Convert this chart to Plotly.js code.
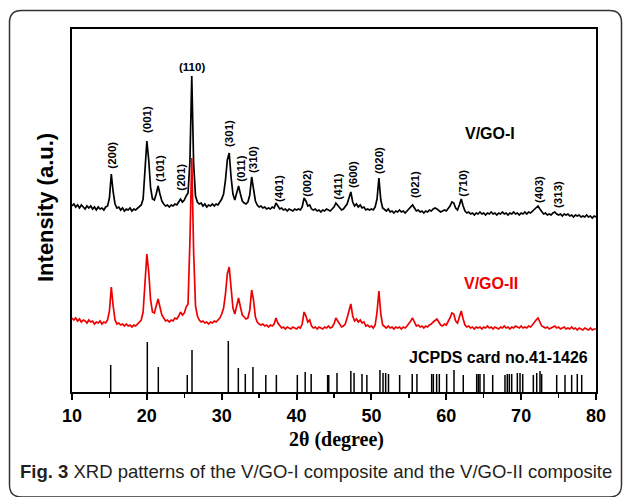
<!DOCTYPE html>
<html>
<head>
<meta charset="utf-8">
<script src="https://cdn.plot.ly/plotly-3.0.1.min.js"></script>
<style>html,body{margin:0;padding:0;background:#fff;}#chart{width:629px;height:497px;}</style>
</head>
<body>
<div id="chart"></div>
<script>
// 2θ sampling (degrees)
const twoTheta = [
10.00,10.25,10.50,10.75,11.00,11.25,11.50,11.75,12.00,12.25,12.50,12.75,13.00,13.25,13.50,13.75,14.00,14.25,14.50,14.75,
15.00,15.25,15.50,15.75,16.00,16.25,16.50,16.75,17.00,17.25,17.50,17.75,18.00,18.25,18.50,18.75,19.00,19.25,19.50,19.75,
20.00,20.25,20.50,20.75,21.00,21.25,21.50,21.75,22.00,22.25,22.50,22.75,23.00,23.25,23.50,23.75,24.00,24.25,24.50,24.75,
25.00,25.25,25.50,25.75,26.00,26.25,26.50,26.75,27.00,27.25,27.50,27.75,28.00,28.25,28.50,28.75,29.00,29.25,29.50,29.75,
30.00,30.25,30.50,30.75,31.00,31.25,31.50,31.75,32.00,32.25,32.50,32.75,33.00,33.25,33.50,33.75,34.00,34.25,34.50,34.75,
35.00,35.25,35.50,35.75,36.00,36.25,36.50,36.75,37.00,37.25,37.50,37.75,38.00,38.25,38.50,38.75,39.00,39.25,39.50,39.75,
40.00,40.25,40.50,40.75,41.00,41.25,41.50,41.75,42.00,42.25,42.50,42.75,43.00,43.25,43.50,43.75,44.00,44.25,44.50,44.75,
45.00,45.25,45.50,45.75,46.00,46.25,46.50,46.75,47.00,47.25,47.50,47.75,48.00,48.25,48.50,48.75,49.00,49.25,49.50,49.75,
50.00,50.25,50.50,50.75,51.00,51.25,51.50,51.75,52.00,52.25,52.50,52.75,53.00,53.25,53.50,53.75,54.00,54.25,54.50,54.75,
55.00,55.25,55.50,55.75,56.00,56.25,56.50,56.75,57.00,57.25,57.50,57.75,58.00,58.25,58.50,58.75,59.00,59.25,59.50,59.75,
60.00,60.25,60.50,60.75,61.00,61.25,61.50,61.75,62.00,62.25,62.50,62.75,63.00,63.25,63.50,63.75,64.00,64.25,64.50,64.75,
65.00,65.25,65.50,65.75,66.00,66.25,66.50,66.75,67.00,67.25,67.50,67.75,68.00,68.25,68.50,68.75,69.00,69.25,69.50,69.75,
70.00,70.25,70.50,70.75,71.00,71.25,71.50,71.75,72.00,72.25,72.50,72.75,73.00,73.25,73.50,73.75,74.00,74.25,74.50,74.75,
75.00,75.25,75.50,75.75,76.00,76.25,76.50,76.75,77.00,77.25,77.50,77.75,78.00,78.25,78.50,78.75,79.00,79.25,79.50,79.75,
80.00];

// V/GO-I intensity (a.u., offset pattern)
const vgoI = [
186,188,185,187,184,187,185,183,186,184,186,183,185,182,185,183,184,182,185,186,
194,218,200,188,184,185,182,184,181,183,182,184,181,183,182,184,185,187,193,218,
251,232,204,193,192,198,206,198,191,188,186,187,185,187,186,188,187,190,193,190,
192,196,199,230,316,228,196,190,188,189,186,188,185,187,186,188,186,188,187,190,
193,198,212,232,239,215,198,192,199,206,198,191,189,188,190,197,215,205,191,187,
185,186,184,185,183,184,183,185,184,189,186,183,184,182,183,181,183,182,181,183,
182,183,182,185,194,191,186,187,183,182,183,181,182,180,182,181,183,182,181,183,
185,189,187,184,182,183,185,188,194,200,190,186,188,185,187,184,185,182,183,182,
183,182,185,193,214,192,184,182,181,183,180,181,179,181,180,182,180,181,179,181,
183,185,187,184,181,182,180,181,179,181,180,182,181,183,184,183,181,180,181,182,
181,183,186,190,189,184,182,187,193,186,181,179,180,178,179,177,179,178,180,178,
179,177,179,178,180,178,179,177,179,178,180,178,179,177,179,178,180,178,179,177,
179,178,180,178,180,179,181,183,185,186,183,180,178,179,177,178,177,179,180,178,
177,178,176,178,177,178,176,177,175,177,176,177,175,176,175,177,175,176,174,176,
175];

// V/GO-II intensity (a.u., offset pattern)
const vgoII = [
74,72,74,71,73,70,72,71,69,72,70,71,68,70,69,71,68,70,69,72,
81,105,86,72,68,69,67,68,66,68,66,67,65,67,66,68,69,72,80,110,
138,120,92,80,79,86,93,85,77,74,71,72,70,72,71,74,73,76,80,77,
79,85,88,150,234,140,86,76,72,70,71,69,70,68,70,69,71,70,72,74,
78,84,98,118,125,101,84,78,86,94,85,77,75,73,74,82,102,92,75,70,
68,67,68,66,67,65,67,66,68,74,69,66,64,65,63,65,64,63,65,64,
63,65,64,68,80,76,70,72,66,64,65,63,65,64,63,65,64,66,64,65,
68,74,71,67,65,66,68,74,80,88,76,71,73,70,72,69,70,66,67,65,
66,64,67,80,101,78,67,65,64,66,64,65,63,65,64,65,63,65,64,66,
68,71,74,70,66,67,65,66,64,66,65,67,68,70,72,73,70,67,66,68,
67,70,74,79,78,71,69,75,81,73,67,65,66,64,65,63,65,64,65,63,
65,64,66,64,65,63,65,64,63,65,64,66,64,65,63,65,64,66,65,64,
66,64,65,64,66,65,67,70,72,74,70,66,65,64,65,63,64,65,66,64,
65,63,64,65,63,64,63,65,63,64,62,64,63,62,64,63,62,64,62,63,
63];

// JCPDS card no.41-1426 reference lines
const cardPos = [15.17,20.06,21.53,25.40,26.03,30.88,32.22,33.15,34.17,35.89,37.30,40.10,41.15,41.95,44.15,44.30,45.40,
47.25,47.68,48.74,49.39,51.14,51.55,51.90,52.28,53.77,55.45,56.08,58.05,58.27,58.71,59.07,60.05,61.03,62.27,
64.06,64.28,64.50,65.04,66.20,67.84,68.15,68.42,68.74,69.49,69.85,70.21,71.63,72.08,72.52,72.74,74.75,75.86,76.75,77.50,78.09];
const cardInt = [27,50,25,17,42,51,24,18,25,17,17,17,20,18,17,17,19,
21,19,18,17,22,19,19,18,17,18,18,18,18,18,18,18,22,17,
18,18,18,18,17,17,18,18,18,19,19,18,17,19,21,18,17,17,17,18,17];

// Miller index labels
const peakLabels = ['(200)','(001)','(101)','(201)','(110)','(301)','(011)','(310)','(401)','(002)','(411)','(600)','(020)','(021)','(710)','(403)','(313)'];
const peakX = [15.30,20.02,21.76,24.52,26.03,30.97,32.54,34.18,37.65,41.35,45.49,47.54,51.01,55.82,62.19,72.38,74.92];
const peakY = [237,272,223,215,325,259,223,232,204,209,205,217,232,207,209,203,198];

const stickX = [], stickY = [];
cardPos.forEach((p, i) => { stickX.push(p, p, null); stickY.push(0, cardInt[i], null); });

const traces = [
  {x: twoTheta, y: vgoI, type: 'scatter', mode: 'lines', line: {color: '#000000', width: 1.7}, hoverinfo: 'skip'},
  {x: twoTheta, y: vgoII, type: 'scatter', mode: 'lines', line: {color: '#ee0000', width: 1.7}, hoverinfo: 'skip'},
  {x: stickX, y: stickY, type: 'scatter', mode: 'lines', line: {color: '#000000', width: 1.5}, hoverinfo: 'skip'}
];

const L = 72, T = 29, W = 524, H = 363;
const px = v => (v - L) / W;
const py = v => (T + H - v) / H;

const ann = peakLabels.map((t, i) => ({
  x: peakX[i], y: peakY[i], xref: 'x', yref: 'y', xanchor: 'center', yanchor: 'middle', text: t, showarrow: false,
  textangle: t === '(110)' ? 0 : -90,
  font: {family: 'Liberation Sans, Arial, sans-serif', size: 11.5, color: '#000', weight: 'bold'}
}));
const P = (x, y, text, font, extra) => Object.assign({x: px(x), y: py(y), xref: 'paper', yref: 'paper', xanchor: 'center', yanchor: 'middle', text, showarrow: false, font}, extra || {});
ann.push(
  P(490, 133, 'V/GO-I', {family: 'Liberation Sans, Arial, sans-serif', size: 16, color: '#000', weight: 'bold'}),
  P(491, 283, 'V/GO-II', {family: 'Liberation Sans, Arial, sans-serif', size: 16, color: '#ee0000', weight: 'bold'}),
  P(590, 357, 'JCPDS card no.41-1426', {family: 'Liberation Sans, Arial, sans-serif', size: 16, color: '#000', weight: 'bold'}, {xanchor: 'right'}),
  P(45, 208, 'Intensity (a.u.)', {family: 'Liberation Sans, Arial, sans-serif', size: 22, color: '#000', weight: 'bold'}, {textangle: -90}),
  P(336, 439, '2θ (degree)', {family: 'Liberation Serif, Times New Roman, serif', size: 20, color: '#000', weight: 'bold'}),
  P(18, 471, '<b>Fig. 3</b> XRD patterns of the V/GO-I composite and the V/GO-II composite',
    {family: 'Liberation Sans, Arial, sans-serif', size: 18.5, color: '#231f20'}, {xanchor: 'left'})
);

// rounded outer frame
const bl = px(9.5), br = px(621.5), bt = py(10.5), bb = py(497), rx = 12 / W, ry = 12 / H;
const framePath = `M ${bl + rx},${bt} L ${br - rx},${bt} Q ${br},${bt} ${br},${bt - ry} L ${br},${bb + ry} Q ${br},${bb} ${br - rx},${bb} L ${bl + rx},${bb} Q ${bl},${bb} ${bl},${bb + ry} L ${bl},${bt - ry} Q ${bl},${bt} ${bl + rx},${bt} Z`;

const layout = {
  width: 629, height: 497,
  margin: {l: L, r: 629 - L - W, t: T, b: 497 - T - H, pad: 0},
  paper_bgcolor: '#ffffff', plot_bgcolor: '#ffffff',
  showlegend: false,
  xaxis: {
    range: [10, 80], dtick: 10, tick0: 10, ticks: 'outside', ticklen: 6, tickwidth: 2, tickcolor: '#000',
    showline: true, linewidth: 2, linecolor: '#000', mirror: true, showgrid: false, zeroline: false,
    tickfont: {family: 'Liberation Sans, Arial, sans-serif', size: 18, color: '#000', weight: 'bold'},
    minor: {dtick: 5, tick0: 15, ticks: 'outside', ticklen: 4, tickwidth: 1.5, tickcolor: '#000', showgrid: false}
  },
  yaxis: {
    range: [0, H], showline: true, linewidth: 2, linecolor: '#000', mirror: true,
    showticklabels: false, ticks: '', showgrid: false, zeroline: false
  },
  annotations: ann,
  shapes: [{type: 'path', xref: 'paper', yref: 'paper', path: framePath, line: {color: '#333333', width: 1.5}, fillcolor: 'rgba(0,0,0,0)'}]
};

Plotly.newPlot('chart', traces, layout, {staticPlot: true, displayModeBar: false});
</script>
</body>
</html>
